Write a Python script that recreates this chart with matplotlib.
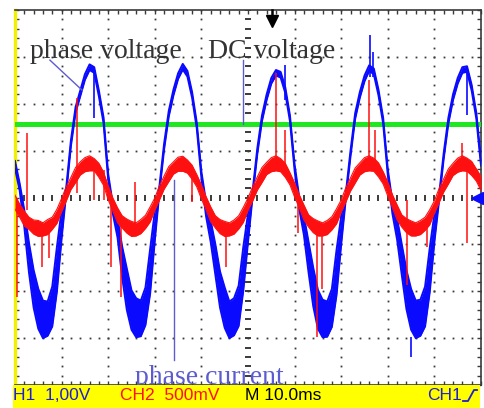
import numpy as np
import matplotlib
matplotlib.use("Agg")
import matplotlib.pyplot as plt

# scope time axis: 10 divisions x 10 ms, read every 1 ms
t_ms = np.arange(0, 101)

# CH1 phase voltage, upper / lower envelope (divisions)
blue_hi = [0.78, 0.30, -0.27, -0.97, -1.55, -1.95, -2.20, -2.22, -1.90, -1.05,
           -0.27, 0.22, 1.22, 1.93, 2.28, 2.63, 2.84, 2.78, 2.28, 1.71,
           0.50, -0.15, -0.45, -1.05, -1.52, -1.98, -2.15, -2.20, -1.92, -1.10,
           -0.30, 0.25, 1.15, 1.85, 2.30, 2.65, 2.85, 2.70, 2.25, 1.60,
           0.55, -0.10, -0.50, -1.00, -1.58, -1.92, -2.22, -2.15, -1.88, -1.05,
           -0.35, 0.15, 1.05, 1.75, 2.20, 2.55, 2.72, 2.68, 2.35, 1.75,
           0.70, 0.00, -0.40, -0.95, -1.50, -1.97, -2.18, -2.22, -1.95, -1.12,
           -0.40, 0.10, 1.00, 1.80, 2.25, 2.60, 2.82, 2.75, 2.30, 1.70,
           0.60, -0.10, -0.45, -1.00, -1.55, -1.95, -2.20, -2.18, -1.90, -1.08,
           -0.35, 0.05, 0.95, 1.70, 2.20, 2.55, 2.78, 2.80, 2.40, 1.80,
           0.80]
blue_lo = [0.62, 0.15, -0.63, -1.60, -2.35, -2.80, -3.00, -2.95, -2.75, -2.00,
           -0.88, 0.10, 1.10, 1.81, 2.16, 2.51, 2.72, 2.66, 2.16, 1.59,
           0.38, -0.35, -0.85, -1.70, -2.40, -2.82, -2.98, -2.96, -2.72, -2.05,
           -0.92, 0.12, 1.03, 1.73, 2.18, 2.53, 2.73, 2.58, 2.13, 1.48,
           0.42, -0.40, -0.95, -1.65, -2.35, -2.78, -3.00, -2.94, -2.74, -1.98,
           -0.95, 0.03, 0.93, 1.63, 2.08, 2.43, 2.60, 2.56, 2.23, 1.63,
           0.58, -0.25, -0.80, -1.60, -2.32, -2.80, -2.98, -2.97, -2.76, -2.08,
           -1.00, -0.02, 0.88, 1.68, 2.13, 2.48, 2.70, 2.63, 2.18, 1.58,
           0.48, -0.35, -0.90, -1.65, -2.38, -2.82, -3.00, -2.95, -2.75, -2.02,
           -0.95, -0.07, 0.83, 1.58, 2.08, 2.43, 2.66, 2.68, 2.28, 1.68,
           0.68]

# CH2 phase current, upper / lower envelope (divisions)
red_hi = [0.05, -0.14, -0.29, -0.42, -0.48, -0.49, -0.54, -0.47, -0.42, -0.25,
          -0.02, 0.23, 0.43, 0.64, 0.76, 0.85, 0.89, 0.83, 0.73, 0.54,
          0.25, -0.01, -0.22, -0.39, -0.46, -0.51, -0.54, -0.47, -0.38, -0.20,
          -0.01, 0.25, 0.46, 0.66, 0.76, 0.86, 0.88, 0.80, 0.69, 0.49,
          0.27, 0.02, -0.20, -0.39, -0.47, -0.51, -0.54, -0.48, -0.39, -0.21,
          -0.01, 0.23, 0.44, 0.64, 0.75, 0.85, 0.89, 0.83, 0.73, 0.53,
          0.31, 0.06, -0.16, -0.37, -0.45, -0.50, -0.54, -0.49, -0.41, -0.24,
          -0.05, 0.21, 0.42, 0.63, 0.74, 0.85, 0.89, 0.84, 0.74, 0.55,
          0.33, 0.06, -0.16, -0.37, -0.45, -0.50, -0.54, -0.49, -0.42, -0.26,
          -0.07, 0.19, 0.40, 0.61, 0.73, 0.84, 0.89, 0.84, 0.77, 0.61,
          0.45]
red_lo = [-0.25, -0.42, -0.61, -0.68, -0.78, -0.83, -0.82, -0.79, -0.68, -0.55,
          -0.30, -0.07, 0.17, 0.32, 0.48, 0.55, 0.57, 0.57, 0.43, 0.26,
          -0.05, -0.29, -0.54, -0.65, -0.76, -0.83, -0.82, -0.77, -0.66, -0.52,
          -0.27, -0.05, 0.18, 0.34, 0.50, 0.56, 0.56, 0.52, 0.39, 0.23,
          -0.03, -0.26, -0.52, -0.65, -0.77, -0.83, -0.82, -0.78, -0.67, -0.53,
          -0.27, -0.07, 0.16, 0.32, 0.49, 0.55, 0.57, 0.55, 0.43, 0.27,
          0.01, -0.22, -0.48, -0.63, -0.75, -0.82, -0.82, -0.79, -0.69, -0.56,
          -0.31, -0.09, 0.14, 0.31, 0.48, 0.55, 0.57, 0.56, 0.44, 0.29,
          0.03, -0.22, -0.48, -0.63, -0.75, -0.82, -0.82, -0.79, -0.70, -0.58,
          -0.33, -0.11, 0.12, 0.29, 0.47, 0.54, 0.57, 0.56, 0.47, 0.35,
          0.15]

# DC link voltage level (divisions)
dc_level = 1.57

# switching spikes on the traces: time (ms), low, high (divisions)
red_spike_t = [0.4, 2.6, 5.8, 7.3, 13.3, 17.0, 19.1, 20.6, 22.7, 25.8, 38.0, 45.3,
               56.0, 58.0, 60.7, 64.8, 65.9, 76.0, 77.3, 84.1, 88.4, 95.9, 97.0]
red_spike_lo = [-2.12, -0.27, -1.48, -1.29, 0.10, -0.05, -0.05, -1.48, -2.12, -0.69, -0.10, -1.48,
                0.69, 0.69, -0.76, -2.97, -1.96, 0.69, 0.69, -1.87, -1.06, 0.59, -0.97]
red_spike_hi = [-0.16, 1.37, -0.69, -0.69, 2.12, 0.76, 0.59, -0.05, -0.37, 0.33, 0.48, -0.59,
                2.65, 1.44, -0.05, -0.59, -0.59, 2.50, 1.44, -0.05, -0.59, 1.16, 0.69]
blue_spike_t = [17.0, 58.0, 76.2, 76.8, 85.0, 97.0]
blue_spike_lo = [1.70, 2.08, 2.57, 2.57, -3.40, 1.76]
blue_spike_hi = [2.72, 2.83, 3.46, 3.10, -2.97, 2.68]

blue = "#0a0aff"
red = "#ff1010"
green = "#20e820"
grid_c = "#3a3a3a"
note_c = "#5c5cd0"

fig = plt.figure(figsize=(4.84, 4.08), dpi=100)
ax = fig.add_axes([15 / 484, 23 / 408, 466 / 484, 375 / 408])
ax.set_xlim(0, 100)
ax.set_ylim(-4, 4)

# graticule
ax.set_xticks(np.arange(0, 101, 10))
ax.set_xticks(np.arange(0, 101, 2), minor=True)
ax.set_yticks(np.arange(-4, 4.1, 1))
ax.set_yticks(np.arange(-4, 4.01, 0.2), minor=True)
ax.tick_params(which="both", direction="in", length=3, width=1, color=grid_c,
               top=True, right=True, labelbottom=False, labelleft=False)
for s in ax.spines.values():
    s.set_color(grid_c)
    s.set_linewidth(1.2)
ax.spines["left"].set_color("#f0f000")
ax.spines["left"].set_linewidth(2.4)

gy = np.arange(-4, 4.01, 0.2)
for gx in [10, 20, 30, 40, 60, 70, 80, 90]:
    ax.plot(np.full_like(gy, gx), gy, ls="none", marker="s", ms=1.3, mew=0, color=grid_c)
gx_row = np.arange(0, 100.1, 2)
for yy in [-3, -2, -1, 1, 2, 3]:
    ax.plot(gx_row, np.full_like(gx_row, yy), ls="none", marker="s", ms=1.3, mew=0, color=grid_c)
ax.plot(gx_row, np.zeros_like(gx_row), ls="none", marker="|", ms=5, mew=1.4, color=grid_c)
ax.plot(np.full_like(gy, 50), gy, ls="none", marker="_", ms=5, mew=1.4, color=grid_c)

# traces
ax.axhline(dc_level, color=green, lw=3.6, zorder=3)
ax.fill_between(t_ms, blue_lo, blue_hi, color=blue, lw=0, zorder=4)
ax.plot(t_ms, blue_hi, color=blue, lw=1.4, zorder=4)
ax.plot(t_ms, blue_lo, color=blue, lw=1.4, zorder=4)
ax.vlines(blue_spike_t, blue_spike_lo, blue_spike_hi, color=blue, lw=1.2, zorder=4)
ax.fill_between(t_ms, red_lo, red_hi, color=red, lw=0, zorder=5)
ax.plot(t_ms, red_hi, color=red, lw=0.8, zorder=5)
ax.plot(t_ms, red_lo, color=red, lw=0.8, zorder=5)
ax.vlines(red_spike_t, red_spike_lo, red_spike_hi, color=red, lw=1.1, zorder=5)

# trigger markers
ax.plot([55.2, 55.2], [4.0, 3.8], color="black", lw=1.8, clip_on=False, zorder=6)
ax.plot([55.2], [3.76], marker="v", ms=8, color="black", clip_on=False, zorder=6)
ax.plot([99.2], [0.0], marker="<", ms=8, color=blue, clip_on=False, zorder=6)

# labels and pointers
serif = ["Liberation Serif", "DejaVu Serif"]
ax.text(3.2, 2.97, "phase voltage", family=serif, fontsize=20, color="#333333", zorder=7)
ax.text(41.4, 2.97, "DC voltage", family=serif, fontsize=20, color="#333333", zorder=7)
ax.text(25.8, -3.98, "phase current", family=serif, fontsize=20, color=note_c,
        clip_on=False, zorder=7)
ax.plot([7.5, 14.4], [2.93, 2.29], color=note_c, lw=1, zorder=7)
ax.plot([48.9, 48.9], [2.93, 1.57], color=note_c, lw=1, zorder=7)
ax.plot([34.1, 34.1], [0.37, -3.46], color=note_c, lw=1, zorder=7)

# status bar
bar = fig.add_axes([13 / 484, 0, 467 / 484, 23 / 408])
bar.set_facecolor("#ffff00")
bar.set_xlim(0, 467)
bar.set_ylim(0, 23)
bar.set_xticks([])
bar.set_yticks([])
for s in bar.spines.values():
    s.set_visible(False)
sans = ["Liberation Sans", "DejaVu Sans"]
bar.text(0, 12.5, "H1  1,00V", family=sans, fontsize=12.5, color="#2020d0", va="center")
bar.text(107, 12.5, "CH2  500mV", family=sans, fontsize=12.5, color="#ff1010", va="center")
bar.text(232, 12.5, "M 10.0ms", family=sans, fontsize=12.5, color="black", va="center")
bar.text(414, 12.5, "CH1", family=sans, fontsize=12.5, color="#2020d0", va="center")
bar.plot([450, 455, 461, 464], [7, 7, 18, 18], color="#2020d0", lw=1.3)

fig.savefig("out.png", dpi=100)
